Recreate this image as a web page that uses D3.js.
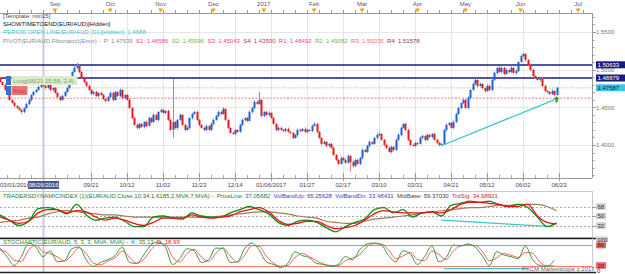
<!DOCTYPE html>
<html><head><meta charset="utf-8">
<script src="https://cdnjs.cloudflare.com/ajax/libs/d3/7.8.5/d3.min.js"></script>
<style>
body{margin:0;background:#fff;}
svg{display:block;font-family:"Liberation Sans",Arial,sans-serif;}
text{white-space:pre;}
</style></head><body><div id="chart"></div>
<script>
// EUR/AUD daily candles, bar index 0 = first visible bar (late July 2016)
const firstOpen = 1.4890;
const closes = [
  1.4837,1.4797,1.4731,1.4691,1.4598,1.4558,1.4519,1.4492,1.4466,1.4439,
  1.4492,1.4545,1.4598,1.4664,1.4704,1.4731,1.4771,1.4810,1.4784,1.4757,
  1.4797,1.4731,1.4757,1.4691,1.4638,1.4598,1.4651,1.4704,1.4757,1.4863,
  1.4969,1.5023,1.5049,1.4969,1.4890,1.4837,1.4784,1.4731,1.4678,1.4704,
  1.4651,1.4691,1.4664,1.4611,1.4585,1.4638,1.4691,1.4598,1.4704,1.4651,
  1.4731,1.4625,1.4664,1.4598,1.4492,1.4359,1.4267,1.4227,1.4280,1.4240,
  1.4306,1.4253,1.4359,1.4306,1.4399,1.4333,1.4439,1.4466,1.4426,1.4452,
  1.4333,1.4200,1.4306,1.4227,1.4333,1.4399,1.4267,1.4200,1.4227,1.4359,
  1.4412,1.4439,1.4333,1.4267,1.4227,1.4200,1.4253,1.4200,1.4280,1.4333,
  1.4386,1.4439,1.4412,1.4479,1.4333,1.4227,1.4160,1.4147,1.4200,1.4174,
  1.4267,1.4333,1.4359,1.4320,1.4439,1.4492,1.4572,1.4545,1.4598,1.4386,
  1.4439,1.4399,1.4426,1.4359,1.4280,1.4200,1.4227,1.4200,1.4187,1.4213,
  1.4174,1.4160,1.4094,1.4134,1.4200,1.4187,1.4213,1.4174,1.4200,1.4187,
  1.4253,1.4280,1.4174,1.4094,1.4015,1.4041,1.3988,1.4015,1.3962,1.3869,
  1.3802,1.3749,1.3829,1.3802,1.3763,1.3855,1.3776,1.3723,1.3802,1.3749,
  1.3829,1.3935,1.3908,1.3988,1.4041,1.4015,1.4094,1.4134,1.4147,1.4068,
  1.4001,1.3962,1.3908,1.3975,1.3935,1.4068,1.4134,1.4227,1.4280,1.4200,
  1.4068,1.4001,1.3988,1.4028,1.4015,1.4094,1.4121,1.4068,1.4134,1.4107,
  1.4147,1.4068,1.4028,1.4001,1.4015,1.4200,1.4267,1.4293,1.4227,1.4306,
  1.4412,1.4492,1.4558,1.4598,1.4492,1.4625,1.4731,1.4810,1.4863,1.4784,
  1.4810,1.4757,1.4717,1.4784,1.4731,1.4863,1.4956,1.5023,1.4969,1.5023,
  1.4943,1.4996,1.4969,1.5023,1.4956,1.4983,1.5102,1.5182,1.5208,1.5129,
  1.5062,1.4996,1.4916,1.4890,1.4863,1.4877,1.4784,1.4717,1.4704,1.4678,
  1.4717,1.4664,1.4759
];
// wick lengths in pips above / below the body
const wickUp = [
  15,10,20,10,25,10,15,10,20,15, 10,15,20,10,15,10,20,15,25,10,
  15,20,10,15,10,20,15,10,20,15, 10,30,40,10,15,20,10,15,10,20,
  15,10,20,15,10,15,20,10,15,10, 20,15,10,15,20,10,15,20,10,15,
  10,20,15,10,25,15,10,20,15,10, 15,20,570,10,15,20,10,15,20,10,
  15,10,20,15,10,20,15,10,20,15, 10,15,20,25,10,15,10,20,15,10,
  15,20,10,15,20,15,25,10,106,15, 10,15,20,10,15,10,20,15,10,15,
  20,10,15,10,20,15,10,20,15,10, 15,20,10,15,10,20,15,10,15,20,
  10,15,20,10,15,20,10,15,10,20, 15,20,10,15,20,10,15,20,25,10,
  15,10,20,15,10,20,25,15,10,20, 15,10,20,15,10,20,15,10,20,15,
  10,15,20,15,10,15,20,10,15,20, 15,20,10,15,20,25,10,20,15,10,
  20,15,10,20,15,10,20,15,25,20, 15,20,10,30,15,20,10,15,15,15,
  10,15,20,10,15,10,20,15,10,15, 20,10,15
];
const wickDn = [
  10,15,10,20,15,10,20,15,10,25, 15,10,15,20,10,15,10,15,10,20,
  10,15,20,10,15,20,10,15,10,15, 20,10,15,20,10,15,20,10,15,10,
  15,20,10,15,20,10,15,20,10,15, 10,15,20,10,15,20,10,15,20,10,
  20,15,10,20,15,10,20,15,10,20, 15,10,106,15,20,10,15,20,10,15,
  20,10,15,20,10,15,20,10,15,20, 10,15,20,10,15,20,10,15,20,15,
  10,15,20,15,10,20,15,10,15,20, 15,10,20,15,10,15,20,10,15,20,
  10,20,15,10,20,15,10,15,20,10, 15,10,20,15,20,10,15,20,10,15,
  20,15,10,20,15,10,130,20,15,10, 15,20,10,15,20,15,10,20,15,10,
  20,15,10,20,15,10,15,20,10,15, 15,20,10,15,20,10,15,20,10,15,
  20,10,15,20,15,10,20,15,10,15, 15,10,20,15,10,15,20,10,15,20,
  10,15,20,10,15,20,10,15,10,20, 15,10,20,15,10,20,15,10,15,20,
  10,15,20,15,10,20,15,10,20,15, 15,20,10
];

const dateTicks = [
  {i:38,t:"09/21"},{i:53,t:"10/12"},{i:68,t:"11/02"},{i:83,t:"11/23"},
  {i:98,t:"12/14"},{i:113,t:"01/06/2017"},{i:128,t:"01/27"},{i:143,t:"02/17"},
  {i:158,t:"03/10"},{i:173,t:"03/31"},{i:188,t:"04/21"},{i:203,t:"05/12"},
  {i:218,t:"06/02"},{i:233,t:"06/23"}
];
const monthTicks = [
  {i:23,t:"Sep"},{i:46,t:"Oct"},{i:67,t:"Nov"},{i:89,t:"Dec"},{i:110,t:"2017"},
  {i:131,t:"Feb"},{i:151,t:"Mar"},{i:174,t:"Apr"},{i:194,t:"May"},{i:217,t:"Jun"},{i:241,t:"Jul"}
];
const priceTicks = [1.55, 1.50, 1.45, 1.40];
const resistLines = [1.50633, 1.48879];
const lastPrice = 1.47587;
const stopPrice = 1.4621;
const trendMain = [{i:184,v:1.3990},{i:231,v:1.4600}];

// Traders Dynamic Index, one value every 4 bars
const tdiStep = 4;
const tdiPrice = [52,42,32,40,64,66,62,54,72,52,42,46,48,40,30,30,48,50,46,44,
  56,50,48,48,56,62,68,62,54,38,32,40,42,38,28,20,30,38,44,62,
  66,56,62,48,56,58,50,70,74,78,76,78,72,68,72,66,48,30,37];
const tdiSignal = [48,42,36,40,56,62,62,56,60,58,48,42,46,42,36,32,38,46,46,46,
  52,48,46,48,50,58,62,66,58,42,34,36,40,40,32,26,28,32,42,54,
  60,58,56,56,56,58,56,62,72,76,76,74,72,68,68,72,50,38,35];
const tdiBase = [38,40,42,46,48,54,58,60,58,56,54,52,52,50,48,48,48,48,48,48,
  48,48,48,50,52,54,56,58,58,56,54,50,48,46,40,38,36,36,40,44,
  46,48,50,52,56,58,60,62,64,66,66,68,70,70,72,72,72,68,60];
const trendTdi = [{i:184,v:42},{i:230,v:30}];
const tdiLevels = [68, 50, 32];

// Stochastic, one value every 3 bars
const stochStep = 3;
const stochK = [71,46,20,46,86,74,46,63,31,34,69,74,37,17,29,37,49,74,29,26,
  51,80,89,74,23,40,69,63,29,37,71,69,29,31,69,86,66,31,23,14,
  26,60,49,43,26,23,17,23,46,37,66,83,86,80,49,31,63,54,23,46,
  77,31,43,80,77,83,74,49,20,60,51,46,40,77,37,20,17,35];
const stochD = [65,58,35,32,65,80,60,55,45,33,50,72,55,27,22,33,42,62,45,27,
  38,66,85,82,45,30,55,67,45,32,55,72,48,30,50,78,76,48,27,18,
  20,43,55,46,34,24,20,20,34,42,52,75,84,83,65,40,48,58,38,34,
  62,52,37,62,78,80,79,62,34,42,55,50,44,58,56,30,19,19];
const trendStoch = [{i:185,v:11},{i:220,v:11}];
const stochLevels = [80, 20];

const W = 625, H = 274;
const plotR = 592;
const FS = "6px";
const main = {top: 13, bottom: 178};
const tdiBox = {top: 191, bottom: 237};
const stoBox = {top: 238.5, bottom: 272};

const svg = d3.select("#chart").append("svg").attr("width", W).attr("height", H);
svg.append("rect").attr("width", W).attr("height", H).attr("fill", "#fff");

const x = d3.scaleLinear().domain([38, 233]).range([91, 559]);
const y = d3.scaleLinear().domain([1.40, 1.55]).range([145, 32]);
const yT = d3.scaleLinear().domain([32, 68]).range([225.5, 206.5]);
const yS = d3.scaleLinear().domain([20, 80]).range([265.5, 245]);

const candles = closes.map((c, i) => {
  const o = i ? closes[i - 1] : firstOpen;
  return {i, o, c, h: Math.max(o, c) + wickUp[i] / 1e4, l: Math.min(o, c) - wickDn[i] / 1e4};
});

svg.append("clipPath").attr("id", "cm").append("rect")
  .attr("x", 0).attr("y", main.top).attr("width", plotR).attr("height", main.bottom - main.top);

// grid
const grid = svg.append("g").attr("stroke", "#e6e6e6").attr("stroke-width", 1);
dateTicks.forEach(d => grid.append("line")
  .attr("x1", Math.round(x(d.i)) + 0.5).attr("x2", Math.round(x(d.i)) + 0.5)
  .attr("y1", main.top).attr("y2", main.bottom));
priceTicks.forEach(p => grid.append("line")
  .attr("x1", 0).attr("x2", plotR).attr("y1", Math.round(y(p)) + 0.5).attr("y2", Math.round(y(p)) + 0.5));

// cursor line
svg.append("line").attr("x1", 43.5).attr("x2", 43.5).attr("y1", main.top).attr("y2", stoBox.bottom)
  .attr("stroke", "#c9cadf").attr("stroke-width", 2);

// top month axis
const topAxis = svg.append("g");
topAxis.append("line").attr("x1", 0).attr("x2", plotR).attr("y1", 13.5).attr("y2", 13.5).attr("stroke", "#999");
d3.range(3, 245, 5).forEach(i => {
  if (x(i) > plotR) return;
  topAxis.append("line").attr("x1", Math.round(x(i)) + 0.5).attr("x2", Math.round(x(i)) + 0.5)
    .attr("y1", 10).attr("y2", 13.5).attr("stroke", "#999");
});
monthTicks.forEach(d => {
  const xx = x(d.i);
  topAxis.append("path").attr("d", `M${xx - 2.5},8.5L${xx + 2.5},8.5L${xx},12.5Z`).attr("fill", "#f0a020");
  topAxis.append("text").attr("x", xx).attr("y", 6).attr("text-anchor", "middle")
    .attr("font-size", FS).attr("fill", "#557").text(d.t);
});

// header texts
function textLine(g, tx, ty, parts, size) {
  const t = g.append("text").attr("x", tx).attr("y", ty).attr("font-size", size || FS);
  parts.forEach(([s, c]) => t.append("tspan").attr("fill", c).text(s));
  return t;
}
const hdr = svg.append("g");
textLine(hdr, 3, 18, [["[Template: min15]", "#444"]]);
textLine(hdr, 3, 26, [["SHOWTIMETOEND(EUR/AUD)[Hidden]", "#111"]]);
textLine(hdr, 3, 34, [["PERIOD OPEN LINE(EUR/AUD, D1)[Hidden]: 1.4688", "#33c6d6"]]);
textLine(hdr, 3, 42.5, [
  ["PIVOT(EUR/AUD,Fibonacci)(Error) -  P: 1.47539  ", "#8a8a8a"],
  ["S1: 1.46586  ", "#ff3d9a"], ["S2: 1.45996  ", "#6dbb35"], ["S3: 1.45043  ", "#ff3d6e"],
  ["S4: 1.43500  ", "#b03a4a"], ["R1: 1.48492  ", "#ff3d9a"], ["R2: 1.49082  ", "#6dbb35"],
  ["R3: 1.50035  ", "#ff6b6b"], ["R4: 1.51578", "#9a3838"]]);

// main chart marks
const mg = svg.append("g").attr("clip-path", "url(#cm)");
resistLines.forEach(p => mg.append("line").attr("x1", 0).attr("x2", plotR)
  .attr("y1", y(p)).attr("y2", y(p)).attr("stroke", "#1c1c80").attr("stroke-width", 1.5));
mg.append("line").attr("x1", 0).attr("x2", plotR).attr("y1", y(lastPrice)).attr("y2", y(lastPrice))
  .attr("stroke", "#9fd49f").attr("stroke-dasharray", "1.5,1.5");
mg.append("line").attr("x1", 0).attr("x2", plotR).attr("y1", y(stopPrice)).attr("y2", y(stopPrice))
  .attr("stroke", "#f07a7a").attr("stroke-dasharray", "2,1.5");

const cg = mg.append("g");
cg.selectAll("line").data(candles).join("line")
  .attr("x1", d => Math.round(x(d.i)) + 0.5).attr("x2", d => Math.round(x(d.i)) + 0.5)
  .attr("y1", d => y(d.h)).attr("y2", d => y(d.l))
  .attr("stroke", d => d.c >= d.o ? "#6b9de6" : "#f07f7f").attr("stroke-width", 1);
cg.selectAll("rect").data(candles).join("rect")
  .attr("x", d => Math.round(x(d.i)) - 0.5).attr("width", 2)
  .attr("y", d => y(Math.max(d.o, d.c)))
  .attr("height", d => Math.max(1, y(Math.min(d.o, d.c)) - y(Math.max(d.o, d.c))))
  .attr("fill", d => d.c >= d.o ? "#1f5fcf" : "#e31b1b");

mg.append("path").datum(trendMain)
  .attr("d", d3.line().x(d => x(d.i)).y(d => y(d.v)))
  .attr("stroke", "#35c8cc").attr("stroke-width", 1.3).attr("fill", "none");
// entry arrow
const ax = x(232), ay = y(stopPrice) + 1;
mg.append("path").attr("d", `M${ax},${ay - 3}L${ax + 3},${ay}L${ax + 1.2},${ay}L${ax + 1.2},${ay + 3}L${ax - 1.2},${ay + 3}L${ax - 1.2},${ay}L${ax - 3},${ay}Z`)
  .attr("fill", "#3c9a2a");

// order labels
const og = svg.append("g");
og.append("rect").attr("x", 6).attr("y", 76).attr("width", 5).attr("height", 9).attr("fill", "#3d6fc4");
og.append("rect").attr("x", 11.5).attr("y", 76).attr("width", 66).attr("height", 9).attr("fill", "#dcebcc");
textLine(og, 13, 82.8, [["Long(06/21 15:58, 2.4)", "#7f9b73"]]);
og.append("rect").attr("x", 6).attr("y", 86).attr("width", 5).attr("height", 9).attr("fill", "#3d6fc4");
og.append("rect").attr("x", 11.5).attr("y", 86).attr("width", 16).attr("height", 9).attr("fill", "#f07272");
textLine(og, 13, 92.8, [["Stop", "#c23a3a"]]);

// right price axis
const ra = svg.append("g");
ra.append("line").attr("x1", plotR + 0.5).attr("x2", plotR + 0.5).attr("y1", main.top).attr("y2", main.bottom)
  .attr("stroke", "#999");
d3.range(136, 158).forEach(k => {
  const p = k / 100, yy = Math.round(y(p)) + 0.5;
  if (yy < main.top || yy > main.bottom) return;
  ra.append("line").attr("x1", plotR).attr("x2", plotR + (k % 5 === 0 ? 4 : 2.5))
    .attr("y1", yy).attr("y2", yy).attr("stroke", "#999");
});
priceTicks.forEach(p => ra.append("text").attr("x", 596).attr("y", y(p) + 2.2)
  .attr("font-size", FS).attr("fill", "#777").text(p.toFixed(4)));
const boxes = [[resistLines[0], "#1c1c80", "#fff"], [resistLines[1], "#1c1c80", "#fff"], [lastPrice, "#3cc4ef", "#123"]];
boxes.forEach(([p, bg, fg]) => {
  ra.append("rect").attr("x", 596).attr("y", y(p) - 3.6).attr("width", 29).attr("height", 7).attr("fill", bg);
  ra.append("text").attr("x", 597.5).attr("y", y(p) + 2).attr("font-size", FS).attr("fill", fg)
    .text(p.toFixed(5));
});

// bottom date axis
const ba = svg.append("g");
ba.append("line").attr("x1", 0).attr("x2", plotR).attr("y1", main.bottom + 0.5).attr("y2", main.bottom + 0.5)
  .attr("stroke", "#999");
d3.range(3, 234, 5).forEach(i => ba.append("line")
  .attr("x1", Math.round(x(i)) + 0.5).attr("x2", Math.round(x(i)) + 0.5)
  .attr("y1", main.bottom - 3).attr("y2", main.bottom).attr("stroke", "#aaa"));
dateTicks.forEach(d => ba.append("line")
  .attr("x1", Math.round(x(d.i)) + 0.5).attr("x2", Math.round(x(d.i)) + 0.5)
  .attr("y1", main.bottom - 5).attr("y2", main.bottom + 3).attr("stroke", "#999"));
dateTicks.forEach(d => ba.append("text").attr("x", x(d.i)).attr("y", 187).attr("text-anchor", "middle")
  .attr("font-size", FS).attr("fill", "#446").text(d.t));
ba.append("text").attr("x", 0).attr("y", 187).attr("font-size", FS).attr("fill", "#446").text("03/01/2016");
ba.append("rect").attr("x", 28).attr("y", 181).attr("width", 31).attr("height", 8).attr("fill", "#4a5a8a");
ba.append("text").attr("x", 43.5).attr("y", 187).attr("text-anchor", "middle")
  .attr("font-size", FS).attr("fill", "#fff").text("08/26/2016");

// TDI panel
const tg = svg.append("g");
tg.append("rect").attr("x", -1).attr("y", tdiBox.top + 0.5).attr("width", plotR + 1.5)
  .attr("height", tdiBox.bottom - tdiBox.top).attr("fill", "none").attr("stroke", "#c4cad8");
tdiLevels.forEach(v => {
  const yy = Math.round(yT(v)) + 0.5;
  tg.append("line").attr("x1", 0).attr("x2", plotR).attr("y1", yy).attr("y2", yy)
    .attr("stroke", "#a8a8a8").attr("stroke-dasharray", "2,2");
  tg.append("line").attr("x1", plotR).attr("x2", plotR + 4).attr("y1", yy).attr("y2", yy).attr("stroke", "#999");
  tg.append("rect").attr("x", 596).attr("y", yT(v) - 3.3).attr("width", 10).attr("height", 6.6).attr("fill", "#d0d0d0");
  tg.append("text").attr("x", 597.5).attr("y", yT(v) + 2).attr("font-size", FS).attr("fill", "#333").text(v);
});
const lineT = step => d3.line().x((d, k) => x(k * step)).y(d => yT(d)).curve(d3.curveMonotoneX);
tg.append("path").datum(tdiBase).attr("d", lineT(tdiStep)).attr("fill", "none").attr("stroke", "#a57a55").attr("stroke-width", 1.2);
tg.append("path").datum(trendTdi).attr("d", d3.line().x(d => x(d.i)).y(d => yT(d.v)))
  .attr("fill", "none").attr("stroke", "#35c8cc").attr("stroke-width", 1.3);
tg.append("path").datum(tdiPrice).attr("d", lineT(tdiStep)).attr("fill", "none").attr("stroke", "#138a13").attr("stroke-width", 1.3);
tg.append("path").datum(tdiSignal).attr("d", lineT(tdiStep)).attr("fill", "none").attr("stroke", "#ee1111").attr("stroke-width", 1.3);
textLine(tg, 3, 198, [
  ["TRADERSDYNAMICINDEX (1)(EUR/AUD.Close,10,34,1.6185,2,MVA,7,MVA) -  PriceLine: 37.05682  ", "#1f7a1f"],
  ["VolBandUp: 65.25628  ", "#3a3ad0"], ["VolBandDn: 33.48431  ", "#3a3ad0"],
  ["MidBase: 59.37030  ", "#444"], ["TrdSig: 34.98921", "#e52222"]]);

// Stochastic panel
const sg = svg.append("g");
sg.append("line").attr("x1", 0).attr("x2", 596).attr("y1", stoBox.top).attr("y2", stoBox.top)
  .attr("stroke", "#222").attr("stroke-width", 1.5);
sg.append("line").attr("x1", 0).attr("x2", 596).attr("y1", stoBox.bottom + 0.5).attr("y2", stoBox.bottom + 0.5)
  .attr("stroke", "#222").attr("stroke-width", 1.5);
sg.append("line").attr("x1", plotR + 0.5).attr("x2", plotR + 0.5).attr("y1", stoBox.top).attr("y2", stoBox.bottom)
  .attr("stroke", "#c4cad8");
stochLevels.forEach(v => {
  sg.append("line").attr("x1", 0).attr("x2", plotR).attr("y1", Math.round(yS(v)) + 0.5).attr("y2", Math.round(yS(v)) + 0.5)
    .attr("stroke", "#f37b7b");
  sg.append("rect").attr("x", 596).attr("y", yS(v) - 3.3).attr("width", 10).attr("height", 6.6).attr("fill", "#f06464");
  sg.append("text").attr("x", 597.5).attr("y", yS(v) + 2).attr("font-size", FS).attr("fill", "#411").text(v);
});
sg.append("rect").attr("x", 596).attr("y", 236.5).attr("width", 12).attr("height", 6).attr("fill", "#d0d0d0");
sg.append("text").attr("x", 597).attr("y", 241.8).attr("font-size", FS).attr("fill", "#222").text("100");
sg.append("text").attr("x", 597).attr("y", 273.3).attr("font-size", FS).attr("fill", "#222").text("0");
const lineS = d3.line().x((d, k) => x(k * stochStep)).y(d => yS(d)).curve(d3.curveMonotoneX);
sg.append("path").datum(trendStoch).attr("d", d3.line().x(d => x(d.i)).y(d => yS(d.v)))
  .attr("fill", "none").attr("stroke", "#35c8cc").attr("stroke-width", 1.3);
sg.append("path").datum(stochD).attr("d", lineS).attr("fill", "none").attr("stroke", "#f06060").attr("stroke-width", 1);
sg.append("path").datum(stochK).attr("d", lineS).attr("fill", "none").attr("stroke", "#3a9a3a").attr("stroke-width", 1);
textLine(sg, 3, 244, [
  ["STOCHASTIC(EUR/AUD, 5, 3, 3, MVA, MVA) -  K: 35.13  ", "#2f8a2f"], ["D: 18.99", "#e52222"]]);
textLine(sg, 522, 270.5, [["FXCM Marketscope c 2017", "#666"]]);
</script></body></html>
